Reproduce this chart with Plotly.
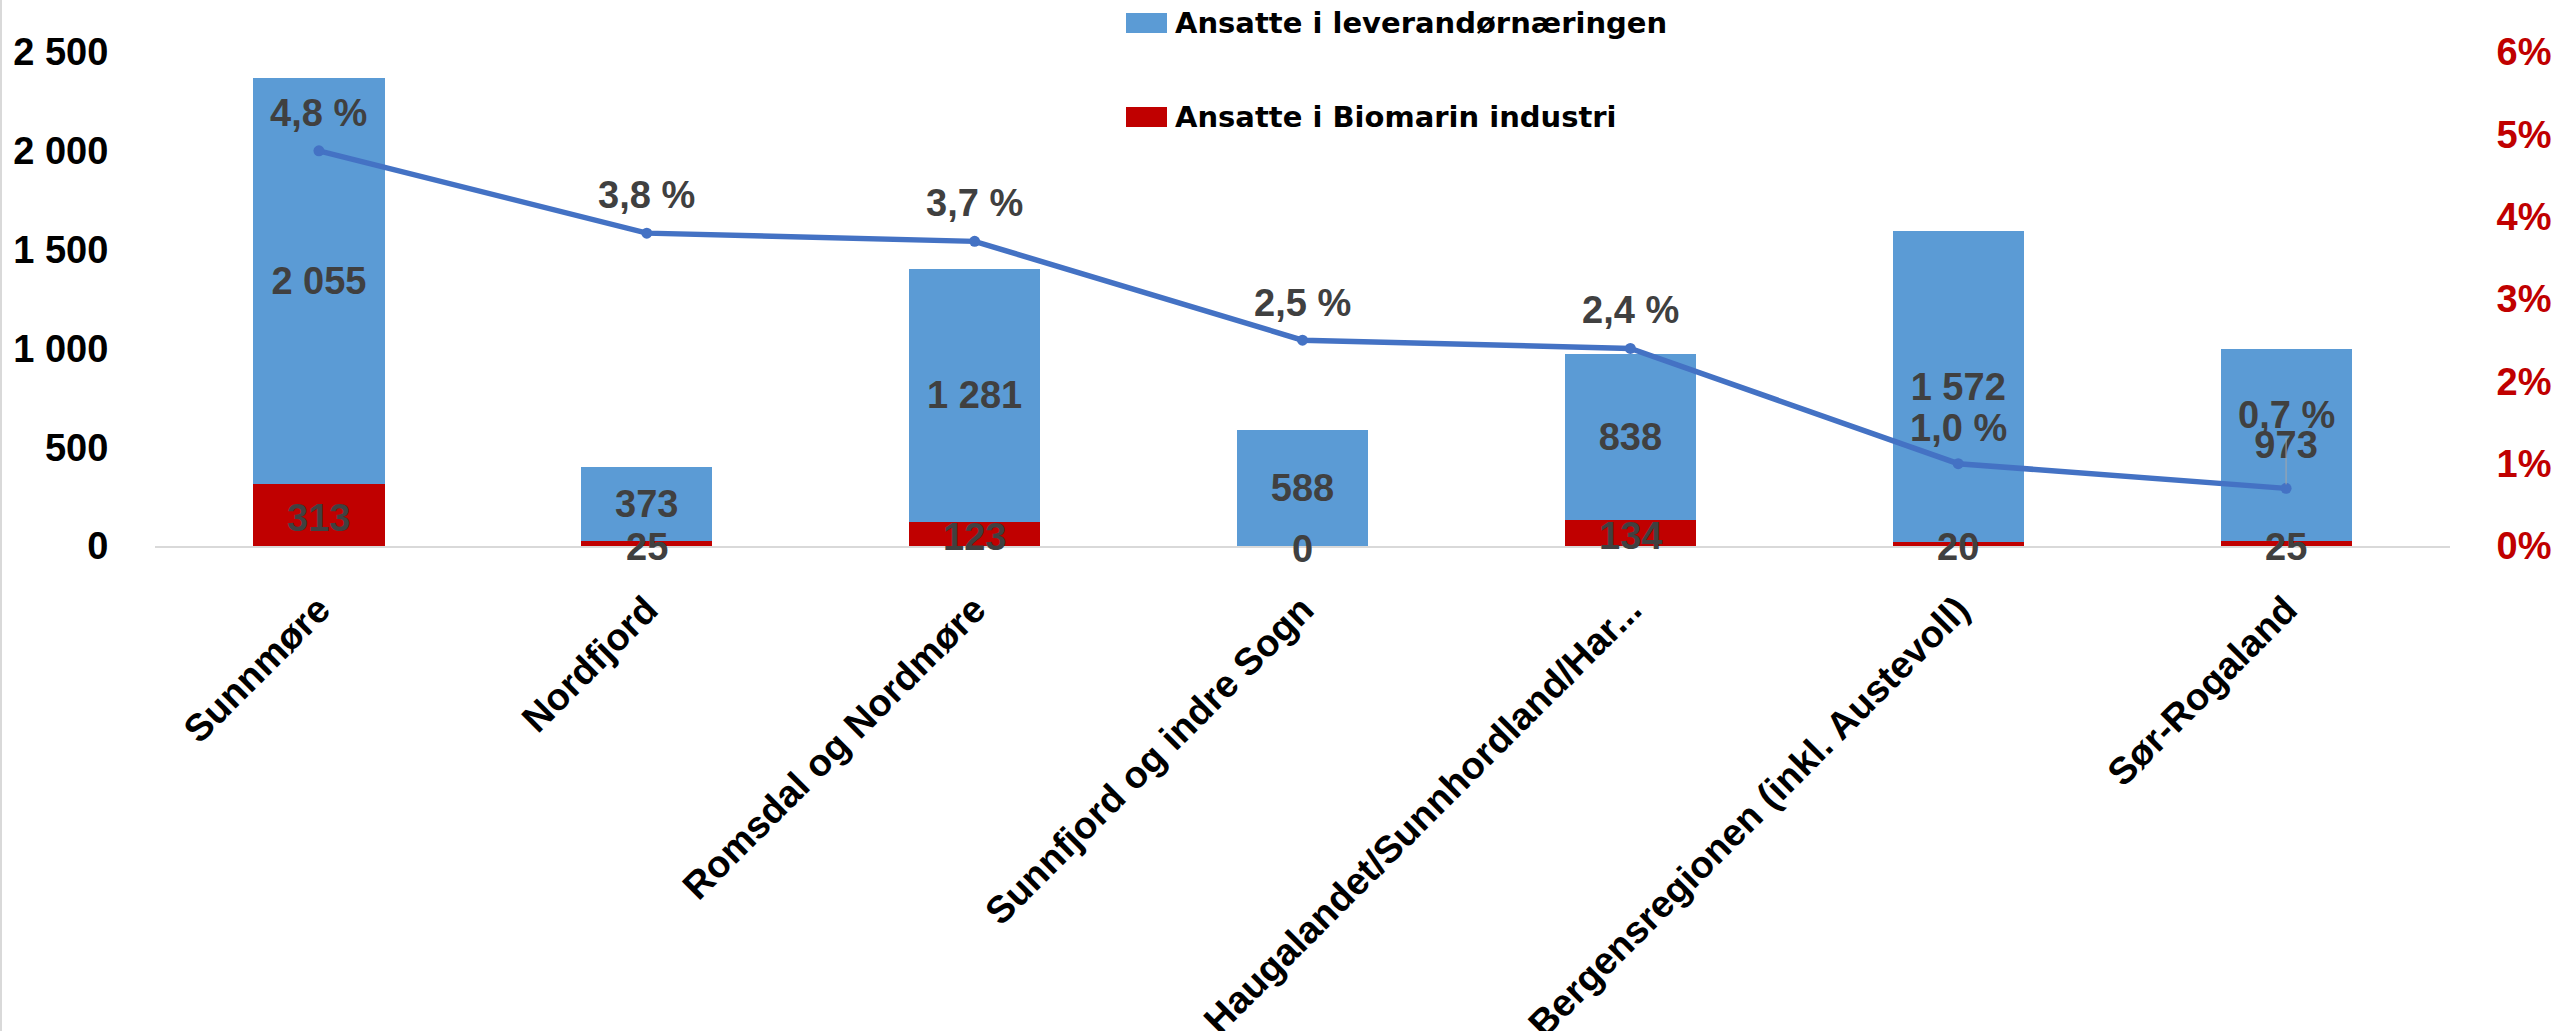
import plotly.graph_objects as go

# --- data -------------------------------------------------------------
regions = [
    "Sunnmøre",
    "Nordfjord",
    "Romsdal og Nordmøre",
    "Sunnfjord og indre Sogn",
    "Haugalandet/Sunnhordland/Har...",
    "Bergensregionen (inkl. Austevoll)",
    "Sør-Rogaland",
]
ansatte_biomarin = [313, 25, 123, 0, 134, 20, 25]
ansatte_leverandor = [2055, 373, 1281, 588, 838, 1572, 973]
andel_prosent = [4.8, 3.8, 3.7, 2.5, 2.4, 1.0, 0.7]

name_leverandor = "Ansatte i leverandørnæringen"
name_biomarin = "Ansatte i Biomarin industri"

left_ticks = [0, 500, 1000, 1500, 2000, 2500]
right_ticks = [0, 1, 2, 3, 4, 5, 6]

# --- styling ----------------------------------------------------------
W, H = 2552, 1031
M_L, M_R, M_T, M_B = 155, 102, 52, 485
PW, PH = W - M_L - M_R, H - M_T - M_B

BLUE = "#5B9BD5"
RED = "#C00000"
LINE = "#4472C4"
LABEL = "#404040"
FONT = "Liberation Sans"
LEGEND_FONT = "DejaVu Sans"

# vertical lift (px) of each percentage label above its marker
pct_lift = [38, 38, 38, 37, 38, 36, 73]


def fmt_int(v):
    return f"{v:,}".replace(",", " ")


def fmt_pct(v):
    return f"{v:.1f} %".replace(".", ",")


def paper_x(px):
    return (px - M_L) / PW


def paper_y(py):
    return (H - M_B - py) / PH


fig = go.Figure()

fig.add_bar(
    x=regions,
    y=ansatte_biomarin,
    name=name_biomarin,
    marker=dict(color=RED, line=dict(width=0)),
    showlegend=False,
)
fig.add_bar(
    x=regions,
    y=ansatte_leverandor,
    name=name_leverandor,
    marker=dict(color=BLUE, line=dict(width=0)),
    texttemplate="%{y:,.0f}",
    textposition="inside",
    insidetextanchor="middle",
    constraintext="none",
    textangle=0,
    textfont=dict(family=FONT, size=38, color=LABEL, weight="bold"),
    showlegend=False,
)
fig.add_scatter(
    x=regions,
    y=andel_prosent,
    yaxis="y2",
    mode="lines+markers",
    line=dict(color=LINE, width=5.5),
    marker=dict(size=11, color=LINE),
    showlegend=False,
)

annotations = []

# values of the red segments, centred in each segment
for reg, v in zip(regions, ansatte_biomarin):
    annotations.append(dict(
        x=reg, y=v / 2, xref="x", yref="y", text=fmt_int(v),
        showarrow=False, yshift=-3,
        font=dict(family=FONT, size=38, color=LABEL, weight="bold"),
    ))

# percentage labels above the line markers
for i, (reg, v) in enumerate(zip(regions, andel_prosent)):
    ann = dict(
        x=reg, y=v, xref="x", yref="y2", text=fmt_pct(v),
        font=dict(family=FONT, size=38, color=LABEL, weight="bold"),
    )
    if pct_lift[i] > 50:
        ann.update(showarrow=True, ax=0, ay=-pct_lift[i], arrowhead=0,
                   arrowwidth=1, arrowcolor="#A6A6A6", standoff=4)
    else:
        ann.update(showarrow=False, yshift=pct_lift[i])
    annotations.append(ann)

# legend: swatch + label for each bar series
shapes = []
legend_items = [(name_leverandor, BLUE, 23), (name_biomarin, RED, 117)]
for label, color, cy in legend_items:
    shapes.append(dict(
        type="rect", xref="paper", yref="paper",
        x0=paper_x(1126), x1=paper_x(1167),
        y0=paper_y(cy + 10), y1=paper_y(cy - 10),
        fillcolor=color, line=dict(width=0), layer="above",
    ))
    annotations.append(dict(
        x=paper_x(1173), y=paper_y(cy), xref="paper", yref="paper",
        xanchor="left", yanchor="middle", text=label, showarrow=False,
        font=dict(family=LEGEND_FONT, size=29, color="#000000", weight="bold"),
    ))

# thin frame line along the left edge
shapes.append(dict(
    type="line", xref="paper", yref="paper",
    x0=paper_x(1), x1=paper_x(1), y0=paper_y(H + 5), y1=paper_y(-5),
    line=dict(color="#D9D9D9", width=2),
))

fig.update_layout(
    width=W,
    height=H,
    margin=dict(l=M_L, r=M_R, t=M_T, b=M_B, autoexpand=False),
    barmode="stack",
    bargap=0.6,
    separators=", ",
    plot_bgcolor="#FFFFFF",
    paper_bgcolor="#FFFFFF",
    showlegend=False,
    annotations=annotations,
    shapes=shapes,
    xaxis=dict(
        showline=True,
        linecolor="#D9D9D9",
        linewidth=2,
        showgrid=False,
        zeroline=False,
        ticks="outside",
        ticklen=24,
        tickcolor="rgba(0,0,0,0)",
        tickangle=-45,
        automargin=False,
        tickfont=dict(family=FONT, size=38, color="#000000", weight="bold"),
    ),
    yaxis=dict(
        range=[0, 2500],
        tickvals=left_ticks,
        tickformat=",d",
        showgrid=False,
        zeroline=False,
        showline=False,
        ticks="outside",
        ticklen=38,
        tickcolor="rgba(0,0,0,0)",
        automargin=False,
        tickfont=dict(family=FONT, size=38, color="#000000", weight="bold"),
    ),
    yaxis2=dict(
        overlaying="y",
        side="right",
        range=[0, 6],
        tickvals=right_ticks,
        ticktext=[f"{t}%" for t in right_ticks],
        showgrid=False,
        zeroline=False,
        showline=False,
        ticks="outside",
        ticklen=38,
        tickcolor="rgba(0,0,0,0)",
        automargin=False,
        tickfont=dict(family=FONT, size=38, color=RED, weight="bold"),
    ),
)

fig.write_html("out.html")
